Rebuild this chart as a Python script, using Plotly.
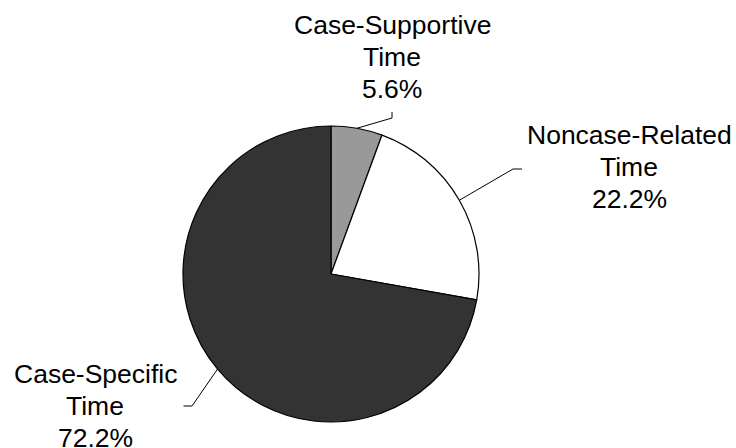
import math
import plotly.graph_objects as go

# ---- data ----
categories = ["Case-Supportive Time", "Noncase-Related Time", "Case-Specific Time"]
label_lines = [["Case-Supportive", "Time"], ["Noncase-Related", "Time"], ["Case-Specific", "Time"]]
values = [5.6, 22.2, 72.2]
colors = ["#999999", "#ffffff", "#333333"]

# ---- layout constants (pixels) ----
W, H = 736, 448
CX, CY, R = 331, 274, 148          # pie centre / radius
# elbow of leader line, horizontal stub, label centre (x, middle-line y)
elbows = [(392, 118), (513, 169), (192, 406)]
stubs = [(0, -6), (9, 0), (-8.5, 0)]
label_pos = [(392, 57), (629, 167), (95, 406)]
LINE_GAP = 31.8
FONT_SIZE = 26.5

def px(x):
    return x / W

def py(y):
    return 1 - y / H

fig = go.Figure(go.Pie(
    labels=categories,
    values=values,
    sort=False,
    direction="clockwise",
    rotation=0,
    textinfo="none",
    hoverinfo="label+percent",
    marker=dict(colors=colors, line=dict(color="#000000", width=1.2)),
    domain=dict(x=[px(CX - R), px(CX + R)], y=[py(CY + R), py(CY - R)]),
    showlegend=False,
))

shapes = []
annotations = []
total = sum(values)
cum = 0.0
for i, v in enumerate(values):
    mid = (cum + v / 2) / total * 2 * math.pi
    cum += v
    ex = CX + R * math.sin(mid)
    ey = CY - R * math.cos(mid)
    bx, by = elbows[i]
    sx, sy = stubs[i]
    path = f"M {px(ex)} {py(ey)} L {px(bx)} {py(by)} L {px(bx + sx)} {py(by + sy)}"
    shapes.append(dict(type="path", xref="paper", yref="paper", path=path,
                       line=dict(color="#000000", width=1)))
    pct = v / total * 100
    lines = label_lines[i] + [f"{pct:.1f}%"]
    lx, ly = label_pos[i]
    for k, t in enumerate(lines):
        yy = ly + (k - 1) * LINE_GAP
        annotations.append(dict(x=px(lx), y=py(yy), xref="paper", yref="paper",
                                text=t, showarrow=False, xanchor="center",
                                yanchor="middle", align="center",
                                font=dict(family="Liberation Sans, Arial",
                                          size=FONT_SIZE, color="#000000")))

fig.update_layout(
    width=W, height=H,
    margin=dict(l=0, r=0, t=0, b=0),
    paper_bgcolor="#ffffff",
    plot_bgcolor="#ffffff",
    shapes=shapes,
    annotations=annotations,
)

fig.write_html("out.html")
